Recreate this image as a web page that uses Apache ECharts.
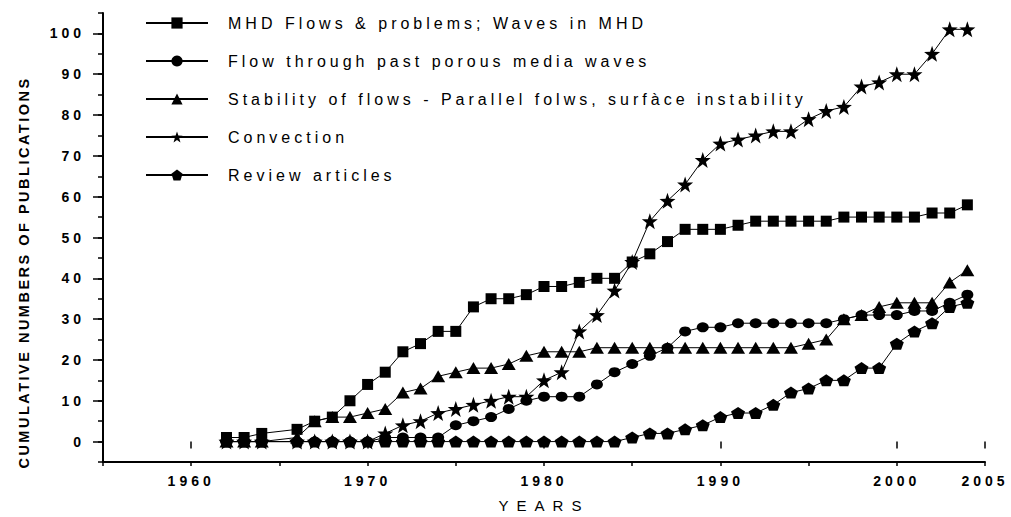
<!DOCTYPE html>
<html>
<head>
<meta charset="utf-8">
<title>Cumulative numbers of publications</title>
<script src="https://cdn.jsdelivr.net/npm/echarts@6/dist/echarts.min.js"></script>
<style>
  html, body { margin: 0; padding: 0; background: #fff; }
  #chart { width: 1011px; height: 517px; }
  /* the scanned figure has very open letter spacing */
  #chart text[style*="16px"] { letter-spacing: 4px; }
  #chart text[style*="14px"] { letter-spacing: 4px; }
  #chart text[style*="14.5px"] { letter-spacing: 2.5px; }
  #chart text[style*="15px"] { letter-spacing: 8px; }
</style>
</head>
<body>
<div id="chart"></div>
<script>
// no points for 1965 in the figure
const years = [1962, 1963, 1964, 1966, 1967, 1968, 1969, 1970, 1971, 1972, 1973, 1974, 1975, 1976,
  1977, 1978, 1979, 1980, 1981, 1982, 1983, 1984, 1985, 1986, 1987, 1988, 1989, 1990, 1991,
  1992, 1993, 1994, 1995, 1996, 1997, 1998, 1999, 2000, 2001, 2002, 2003, 2004];

const mhd = [1, 1, 2, 3, 5, 6, 10, 14, 17, 22, 24, 27, 27, 33,
  35, 35, 36, 38, 38, 39, 40, 40, 44, 46, 49, 52, 52, 52, 53,
  54, 54, 54, 54, 54, 55, 55, 55, 55, 55, 56, 56, 58];

const porous = [0, 0, 0, 0, 0, 0, 0, 0, 1, 1, 1, 1, 4, 5,
  6, 8, 10, 11, 11, 11, 14, 17, 19, 21, 23, 27, 28, 28, 29,
  29, 29, 29, 29, 29, 30, 31, 31, 31, 32, 32, 34, 36];

const stability = [0, 0, 0, 1, 5, 6, 6, 7, 8, 12, 13, 16, 17, 18,
  18, 19, 21, 22, 22, 22, 23, 23, 23, 23, 23, 23, 23, 23, 23,
  23, 23, 23, 24, 25, 30, 31, 33, 34, 34, 34, 39, 42];

const convection = [0, 0, 0, 0, 0, 0, 0, 0, 2, 4, 5, 7, 8, 9,
  10, 11, 11, 15, 17, 27, 31, 37, 44, 54, 59, 63, 69, 73, 74,
  75, 76, 76, 79, 81, 82, 87, 88, 90, 90, 95, 101, 101];

const review = [0, 0, 0, 0, 0, 0, 0, 0, 0, 0, 0, 0, 0, 0,
  0, 0, 0, 0, 0, 0, 0, 0, 1, 2, 2, 3, 4, 6, 7,
  7, 9, 12, 13, 15, 15, 18, 18, 24, 27, 29, 33, 34];

const seriesNames = [
  "MHD Flows & problems; Waves in MHD",
  "Flow through past porous media waves",
  "Stability of flows - Parallel folws, surfàce instability",
  "Convection",
  "Review articles"
];

const yTickLabels = [0, 10, 20, 30, 40, 50, 60, 70, 80, 90, 100];
const xTickLabels = [1960, 1970, 1980, 1990, 2000, 2005];

const starPath = "path://M0,-10L2.35,-3.24L9.51,-3.09L3.8,1.24L5.88,8.09L0,4L-5.88,8.09L-3.8,1.24L-9.51,-3.09L-2.35,-3.24Z";
const pentagonPath = "path://M0,-10L9.51,-3.09L5.88,8.09L-5.88,8.09L-9.51,-3.09Z";

const font = "Liberation Sans";

function pairs(vals) {
  return years.map((y, i) => [y, vals[i]]);
}

function lineSeries(name, vals, symbol, size) {
  return {
    name: name,
    type: "line",
    data: pairs(vals),
    symbol: symbol,
    symbolSize: size,
    showAllSymbol: true,
    xAxisIndex: 0,
    yAxisIndex: 0,
    lineStyle: { color: "#000", width: 1 },
    itemStyle: { color: "#000" },
    silent: true
  };
}

const plainNumber = v => String(v);

const chart = echarts.init(document.getElementById("chart"), null, { renderer: "svg" });

chart.setOption({
  animation: false,
  backgroundColor: "#fff",
  grid: { left: 103, right: 26, top: 13, bottom: 55, outerBoundsMode: "none" },
  legend: {
    data: seriesNames,
    orient: "vertical",
    left: 140,
    top: 10,
    itemWidth: 62,
    itemHeight: 14,
    itemGap: 22,
    selectedMode: false,
    lineStyle: { width: 2 },
    textStyle: { fontFamily: font, fontSize: 16, color: "#000", padding: [0, 0, 0, 15] }
  },
  xAxis: [
    {
      type: "value",
      min: 1955,
      max: 2005,
      interval: 5,
      name: "YEARS",
      nameLocation: "middle",
      nameGap: 36,
      nameMoveOverlap: false,
      nameTextStyle: { fontFamily: font, fontSize: 15, color: "#000" },
      axisLine: { show: true, onZero: false, lineStyle: { color: "#000", width: 2 } },
      axisTick: { show: true, length: 4, lineStyle: { color: "#000", width: 1.5 } },
      axisLabel: {
        customValues: xTickLabels,
        formatter: plainNumber,
        margin: 12,
        fontFamily: font,
        fontSize: 14,
        fontWeight: "bold",
        color: "#000"
      },
      splitLine: { show: false }
    },
    {
      type: "value",
      min: 1955,
      max: 2005,
      interval: 5,
      position: "bottom",
      axisLine: { show: false },
      axisTick: { show: true, length: 7, customValues: xTickLabels, lineStyle: { color: "#000", width: 1.5 } },
      axisLabel: { show: false },
      splitLine: { show: false }
    }
  ],
  yAxis: [
    {
      type: "value",
      min: -5,
      max: 105,
      interval: 5,
      name: "CUMULATIVE NUMBERS OF PUBLICATIONS",
      nameLocation: "middle",
      nameGap: 72,
      nameMoveOverlap: false,
      nameTextStyle: {
        fontFamily: font,
        fontSize: 14.5,
        fontWeight: "bold",
        color: "#000",
        padding: [0, 70, 0, 0]
      },
      axisLine: { show: true, onZero: false, lineStyle: { color: "#000", width: 2 } },
      axisTick: { show: true, length: 5, lineStyle: { color: "#000", width: 1.5 } },
      axisLabel: {
        customValues: yTickLabels,
        formatter: plainNumber,
        margin: 18,
        fontFamily: font,
        fontSize: 14,
        fontWeight: "bold",
        color: "#000"
      },
      splitLine: { show: false }
    },
    {
      type: "value",
      min: -5,
      max: 105,
      interval: 5,
      position: "left",
      axisLine: { show: false },
      axisTick: { show: true, length: 10, customValues: yTickLabels, lineStyle: { color: "#000", width: 1.5 } },
      axisLabel: { show: false },
      splitLine: { show: false }
    }
  ],
  series: [
    lineSeries(seriesNames[0], mhd, "rect", 11),
    lineSeries(seriesNames[1], porous, "circle", [12, 10]),
    lineSeries(seriesNames[2], stability, "triangle", [14, 12]),
    lineSeries(seriesNames[3], convection, starPath, 16),
    lineSeries(seriesNames[4], review, pentagonPath, [14, 12])
  ]
});
</script>
</body>
</html>
